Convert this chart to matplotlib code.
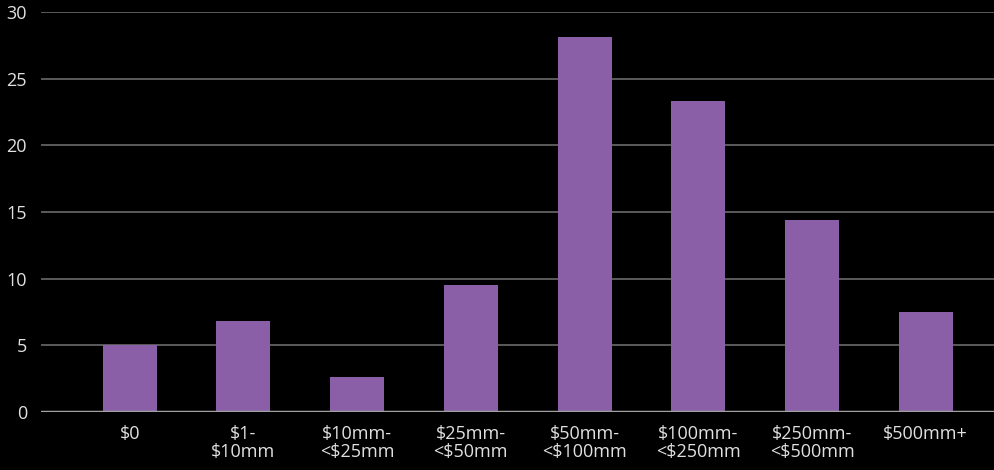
import matplotlib.pyplot as plt

categories = ["$0", "$1-\n$10mm", "$10mm-\n<$25mm", "$25mm-\n<$50mm",
              "$50mm-\n<$100mm", "$100mm-\n<$250mm", "$250mm-\n<$500mm", "$500mm+"]
values = [5.0, 6.8, 2.6, 9.5, 28.1, 23.3, 14.4, 7.5]
yticks = [0, 5, 10, 15, 20, 25, 30]

plt.rcParams['font.family'] = ['Open Sans', 'DejaVu Sans']

fig = plt.figure(figsize=(9.94, 4.70), dpi=100, facecolor="black")
ax = fig.add_axes([41 / 994, 58 / 470, 953 / 994, 400 / 470])
ax.set_facecolor("black")

x = range(len(categories))
ax.bar(x, values, width=0.475, color="#8B5FA8", zorder=3)

ax.set_ylim(0, 30)
ax.set_xlim(-0.78, 7.6)
ax.set_yticks(yticks)
ax.set_xticks(list(x))
ax.set_xticklabels(categories, linespacing=1.05)

ax.yaxis.grid(True, color="#6a6a6a", linewidth=1.2, zorder=0)
ax.axhline(0, color="#a0a0a0", linewidth=2.5, zorder=4)

for s in ax.spines.values():
    s.set_visible(False)
ax.tick_params(axis="both", length=0, colors="#e0e0e0", labelsize=13)
ax.tick_params(axis="y", pad=10)
ax.tick_params(axis="x", pad=9)

fig.savefig("out.png", dpi=100, facecolor="black")
